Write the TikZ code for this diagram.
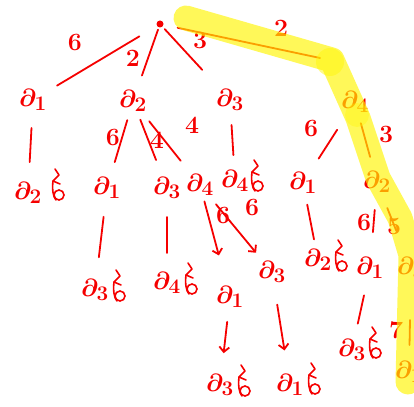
\documentclass[tikz,border=0pt]{standalone}
\usetikzlibrary{arrows.meta}
\definecolor{pen}{RGB}{245,0,0}
\definecolor{marker}{RGB}{255,245,0}

\tikzset{
  city/.style={text=pen, font=\Huge\boldmath, inner sep=1pt},
  wt/.style={text=pen, font=\Huge\bfseries, inner sep=0pt},
  link/.style={draw=pen, line width=1.8pt, line cap=round},
  marked/.style={draw=marker, line width=25pt, line cap=round, line join=round, opacity=.65},
  pics/done/.style={code={
    \draw[pen, line width=1.6pt, line cap=round, line join=round]
      (-2,-18) -- (2,-12) -- (-4,-6) -- (3,-3);
    \draw[pen, line width=1.6pt, line cap=round]
      (-4,-6) .. controls (-5,2) and (-4,10) .. (-1,13);
    \draw[pen, line width=1.6pt] (2,8) circle (5pt);
  }}
}

\begin{document}
\begin{tikzpicture}[x=1pt, y=-1pt, >={Straight Barb[length=5pt,width=10pt]}]
\useasboundingbox (0,0) rectangle (414,406);
\clip (0,0) rectangle (414,406);

% root and first level
\node[fill=pen, circle, inner sep=0pt, minimum size=7pt] (n) at (160,24) {};
\node[city] (n1) at (33,100) {$\partial_1$};
\node[city] (n2) at (133,101) {$\partial_2$};
\node[city] (n3) at (230,100) {$\partial_3$};
\node[city] (n4) at (355,102) {$\partial_4$};
\coordinate (k4) at (320,58);

% second level
\node[city] (n12) at (28,193) {$\partial_2$};
\node[city] (n21) at (107,188) {$\partial_1$};
\node[city] (n23) at (167,188) {$\partial_3$};
\node[city] (n24) at (200,185) {$\partial_4$};
\node[city] (n34) at (235,181) {$\partial_4$};
\node[city] (n41) at (303,183) {$\partial_1$};
\node[city] (n42) at (377,182) {$\partial_2$};

% third level
\node[city] (n213) at (95,290) {$\partial_3$};
\node[city] (n234) at (167,283) {$\partial_4$};
\node[city] (n241) at (230,297) {$\partial_1$};
\node[city] (n243) at (272,272) {$\partial_3$};
\node[city] (n412) at (318,260) {$\partial_2$};
\node[city] (n421) at (370,268) {$\partial_1$};
\node[city] (n423) at (411,268) {$\partial_3$};

% fourth level
\node[city] (n2413) at (220,385) {$\partial_3$};
\node[city] (n2431) at (290,385) {$\partial_1$};
\node[city] (n4213) at (352,350) {$\partial_3$};
\node[city] (n4231) at (409,372) {$\partial_1$};

% end marks
\pic at ([shift={(29,-6)}]n12.center) {done};
\pic at ([shift={(21,-3)}]n34.center) {done};
\pic at ([shift={(23,-2)}]n213.center) {done};
\pic at ([shift={(23,-2)}]n234.center) {done};
\pic at ([shift={(23,-2)}]n2413.center) {done};
\pic at ([shift={(23,-4)}]n2431.center) {done};
\pic at ([shift={(22,-2)}]n412.center) {done};
\pic at ([shift={(22,-5)}]n4213.center) {done};

% connectors
\draw[link, shorten <=24pt, shorten >=28pt] (n.center) -- (n1.center);
\draw[link, shorten <=6pt, shorten >=27pt] (n.center) -- (n2.center);
\draw[link, shorten <=7pt, shorten >=41pt] (n.center) -- (n3.center);
\draw[link, shorten <=18pt] (n.center) -- (k4);
\draw[link, shorten <=28pt, shorten >=31pt] (n1.center) -- (n12.center);
\draw[link, shorten <=20pt, shorten >=27pt] (n2.center) -- (n21.center);
\draw[link, shorten <=20pt, shorten >=30pt] (n2.center) -- (n23.center);
\draw[link, shorten <=26pt, shorten >=31pt] (n2.center) -- (n24.center);
\draw[link, shorten <=25pt, shorten >=26pt] (n3.center) -- (n34.center);
\draw[link, shorten <=33pt, shorten >=29pt] (n4.center) -- (n41.center);
\draw[link, shorten <=22pt, shorten >=26pt] (n4.center) -- (n42.center);
\draw[link, shorten <=29pt, shorten >=33pt] (n21.center) -- (n213.center);
\draw[link, shorten <=29pt, shorten >=30pt] (n23.center) -- (n234.center);
\draw[link, ->, shorten <=17pt, shorten >=43pt] (n24.center) -- (n241.center);
\draw[link, ->, shorten <=25pt, shorten >=25pt] (n24.center) -- (n243.center);
\draw[link, ->, shorten <=25pt, shorten >=32pt] (n241.center) -- (n2413.center);
\draw[link, ->, shorten <=33pt, shorten >=35pt] (n243.center) -- (n2431.center);
\draw[link, shorten <=22pt, shorten >=21pt] (n41.center) -- (n412.center);
\draw[link, shorten <=28pt, shorten >=36pt] (n42.center) -- (n421.center);
\draw[link, shorten <=28pt, shorten >=40pt] (n42.center) -- (n423.center);
\draw[link, shorten <=52pt, shorten >=27pt] (n423.center) -- (n4231.center);
\draw[link, shorten <=28pt, shorten >=27pt] (n421.center) -- (n4213.center);

% weights
\node[wt] (w1) at (75,42) {6};
\node[wt] (w2) at (133,58) {2};
\node[wt] (w3) at (200,40) {3};
\node[wt] (w4) at (281,28) {2};
\node[wt] (w6) at (113,137) {6};
\node[wt] (w7) at (157,140) {4};
\node[wt] (w8) at (192,125) {4};
\node[wt] (w10) at (311,128) {6};
\node[wt] (w11) at (386,134) {3};
\node[wt] (w14) at (223,215) {6};
\node[wt] (w15) at (252,207) {6};
\node[wt] (w19) at (364,222) {6};
\node[wt] (w20) at (394,226) {5};
\node[wt] (w21) at (396,330) {7};

% marker over the cheapest branch
\draw[marked] (186,18) -- (332,60) -- (358,118) -- (378,178) -- (400,218) -- (411,255) -- (408,382);
\fill[marker, opacity=.45] (330,62) circle (14pt);
\fill[marker, opacity=.35] (357,115) circle (12pt);
\end{tikzpicture}
\end{document}
